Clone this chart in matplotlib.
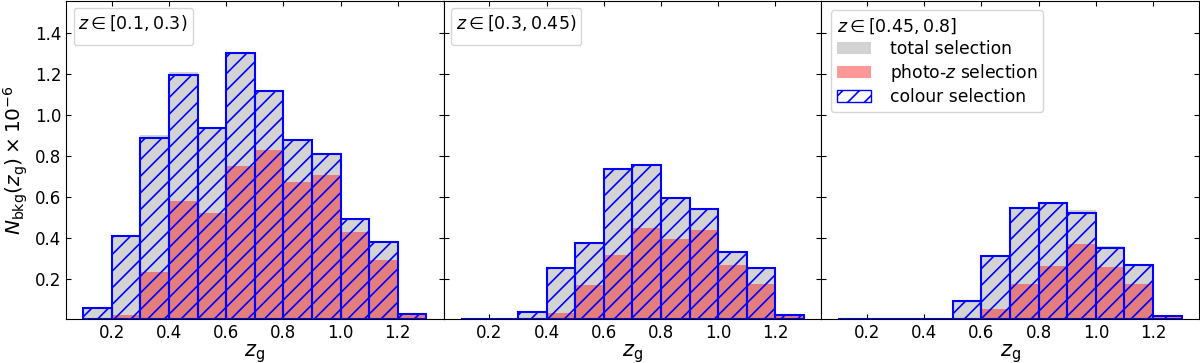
import matplotlib
matplotlib.use('Agg')
import matplotlib.pyplot as plt
import matplotlib.patches as mpatches
import numpy as np

# bin left edges in z_g (width 0.1)
bin_left = [0.1, 0.2, 0.3, 0.4, 0.5, 0.6, 0.7, 0.8, 0.9, 1.0, 1.1, 1.2]
bin_width = 0.1

z_bins = [r'$z \in [0.1, 0.3)$', r'$z \in [0.3, 0.45)$', r'$z \in [0.45, 0.8]$']

# N_bkg(z_g) x 1e-6
total_1 = [0.058, 0.412, 0.903, 1.211, 0.941, 1.305, 1.119, 0.884, 0.813, 0.496, 0.381, 0.031]
photoz_1 = [0.0, 0.020, 0.232, 0.579, 0.522, 0.750, 0.827, 0.672, 0.708, 0.430, 0.291, 0.022]
colour_1 = [0.056, 0.410, 0.887, 1.195, 0.939, 1.302, 1.117, 0.880, 0.810, 0.493, 0.379, 0.029]

total_2 = [0.0, 0.0, 0.036, 0.255, 0.378, 0.737, 0.760, 0.599, 0.546, 0.335, 0.256, 0.022]
photoz_2 = [0.0, 0.0, 0.0, 0.030, 0.169, 0.314, 0.446, 0.395, 0.437, 0.265, 0.172, 0.017]
colour_2 = [0.0, 0.0, 0.034, 0.253, 0.375, 0.734, 0.757, 0.596, 0.543, 0.332, 0.253, 0.020]

total_3 = [0.0, 0.0, 0.0, 0.0, 0.093, 0.312, 0.549, 0.571, 0.535, 0.359, 0.272, 0.019]
photoz_3 = [0.0, 0.0, 0.0, 0.0, 0.0, 0.050, 0.175, 0.261, 0.367, 0.257, 0.172, 0.014]
colour_3 = [0.0, 0.0, 0.0, 0.0, 0.091, 0.310, 0.546, 0.568, 0.522, 0.351, 0.265, 0.017]

totals = [total_1, total_2, total_3]
photozs = [photoz_1, photoz_2, photoz_3]
colours = [colour_1, colour_2, colour_3]

plt.rcParams['hatch.linewidth'] = 1.2
plt.rcParams['hatch.color'] = 'blue'

fig, axes = plt.subplots(1, 3, figsize=(12, 3.63), dpi=100, sharey=True)
fig.subplots_adjust(left=0.055, right=0.999, top=0.998, bottom=0.12, wspace=0)

for i, ax in enumerate(axes):
    ax.bar(bin_left, totals[i], width=bin_width, align='edge', color='lightgrey', zorder=1)
    ax.bar(bin_left, photozs[i], width=bin_width, align='edge', color='red', alpha=0.4,
           linewidth=0, zorder=2)
    ax.bar(bin_left, colours[i], width=bin_width, align='edge', facecolor='none',
           edgecolor='blue', hatch='//', linewidth=1.5, zorder=3)
    ax.set_ylim(0, 1.56)
    ax.set_yticks(np.arange(0.2, 1.41, 0.2))
    ax.set_xticks([0.2, 0.4, 0.6, 0.8, 1.0, 1.2])
    ax.tick_params(direction='in', right=True, top=True, labelsize=12)
    ax.set_xlabel(r'$z_{\rm g}$', fontsize=15, labelpad=0)
    if i < 2:
        leg = ax.legend(handles=[], title=z_bins[i], loc='upper left',
                        title_fontsize=12.5, borderaxespad=0.55, borderpad=0.35)
    else:
        h_tot = mpatches.Patch(facecolor='lightgrey', linewidth=0, label='total selection')
        h_pz = mpatches.Patch(facecolor='red', alpha=0.4, linewidth=0,
                              label=r'photo-$z$ selection')
        h_col = mpatches.Patch(facecolor='none', edgecolor='blue', hatch='//',
                               label='colour selection')
        leg = ax.legend(handles=[h_tot, h_pz, h_col], title=z_bins[i], loc='upper left',
                        fontsize=12.3, title_fontsize=12.5, alignment='left',
                        borderaxespad=0.55, handletextpad=1.1, labelspacing=0.25,
                        borderpad=0.35)

axes[0].set_ylabel(r'$N_{\rm bkg}(z_{\rm g}) \times 10^{-6}$', fontsize=14.5, labelpad=3)

fig.savefig('out.png', dpi=100)
